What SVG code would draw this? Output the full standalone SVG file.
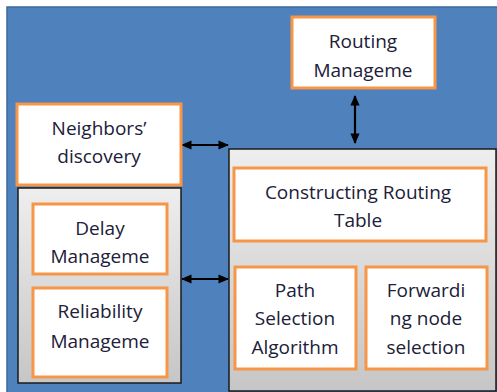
<svg xmlns="http://www.w3.org/2000/svg" width="497" height="392" viewBox="0 0 497 392">
<style>
.box{fill:#fff;stroke:#F79646;stroke-width:3}
.cont{fill:url(#g);stroke:#1a1a1a;stroke-width:1.5}
.t{font-family:"Open Sans","Liberation Sans",Arial,sans-serif;font-size:19px;fill:#202038;text-anchor:middle}
.c{stroke:#000;stroke-width:2.2;fill:none;marker-start:url(#a);marker-end:url(#a)}
</style>
<defs>
<linearGradient id="g" x1="0" y1="0" x2="0" y2="1">
<stop offset="0" stop-color="#EEEEEE"/>
<stop offset="1" stop-color="#C6C6C6"/>
</linearGradient>
<marker id="a" viewBox="0 0 10 10" refX="9" refY="5" markerWidth="4.8" markerHeight="4.2" orient="auto-start-reverse" markerUnits="strokeWidth" preserveAspectRatio="none">
<path d="M0,0 L10,5 L0,10 z" fill="#000"/>
</marker>
</defs>
<rect x="0" y="0" width="497" height="392" fill="#fff"/>
<rect x="7" y="7" width="495" height="390" fill="#4F81BD" stroke="#3D6A9E" stroke-width="1.5"/>
<g id="connectors">
<line class="c" x1="182" y1="145" x2="228" y2="145"/>
<line class="c" x1="182" y1="279" x2="228" y2="279"/>
<line class="c" x1="355" y1="96" x2="355" y2="143"/>
</g>
<g id="routing">
<rect class="box" x="292" y="17" width="143" height="71"/>
<text class="t" x="363" y="48">Routing</text>
<text class="t" x="363" y="77">Manageme</text>
</g>
<g id="neighbors">
<rect class="box" x="17" y="104" width="164" height="81"/>
<text class="t" x="99" y="135">Neighbors’</text>
<text class="t" x="99" y="163">discovery</text>
</g>
<g id="leftContainer">
<rect class="cont" x="18" y="188" width="163" height="195"/>
</g>
<g id="delay">
<rect class="box" x="33" y="204" width="134" height="70"/>
<text class="t" x="100" y="235">Delay</text>
<text class="t" x="100" y="263">Manageme</text>
</g>
<g id="reliability">
<rect class="box" x="33" y="288" width="134" height="89"/>
<text class="t" x="100" y="318">Reliability</text>
<text class="t" x="100" y="348">Manageme</text>
</g>
<g id="rightContainer">
<rect class="cont" x="229" y="149" width="267" height="242"/>
</g>
<g id="constructing">
<rect class="box" x="234" y="168" width="252" height="73"/>
<text class="t" x="358" y="199">Constructing Routing</text>
<text class="t" x="358" y="227">Table</text>
</g>
<g id="path">
<rect class="box" x="235" y="267" width="121" height="102"/>
<text class="t" x="295" y="297">Path</text>
<text class="t" x="295" y="325">Selection</text>
<text class="t" x="295" y="354">Algorithm</text>
</g>
<g id="forwarding">
<rect class="box" x="366" y="267" width="121" height="102"/>
<text class="t" x="426" y="297">Forwardi</text>
<text class="t" x="426" y="325">ng node</text>
<text class="t" x="426" y="354">selection</text>
</g>
</svg>
